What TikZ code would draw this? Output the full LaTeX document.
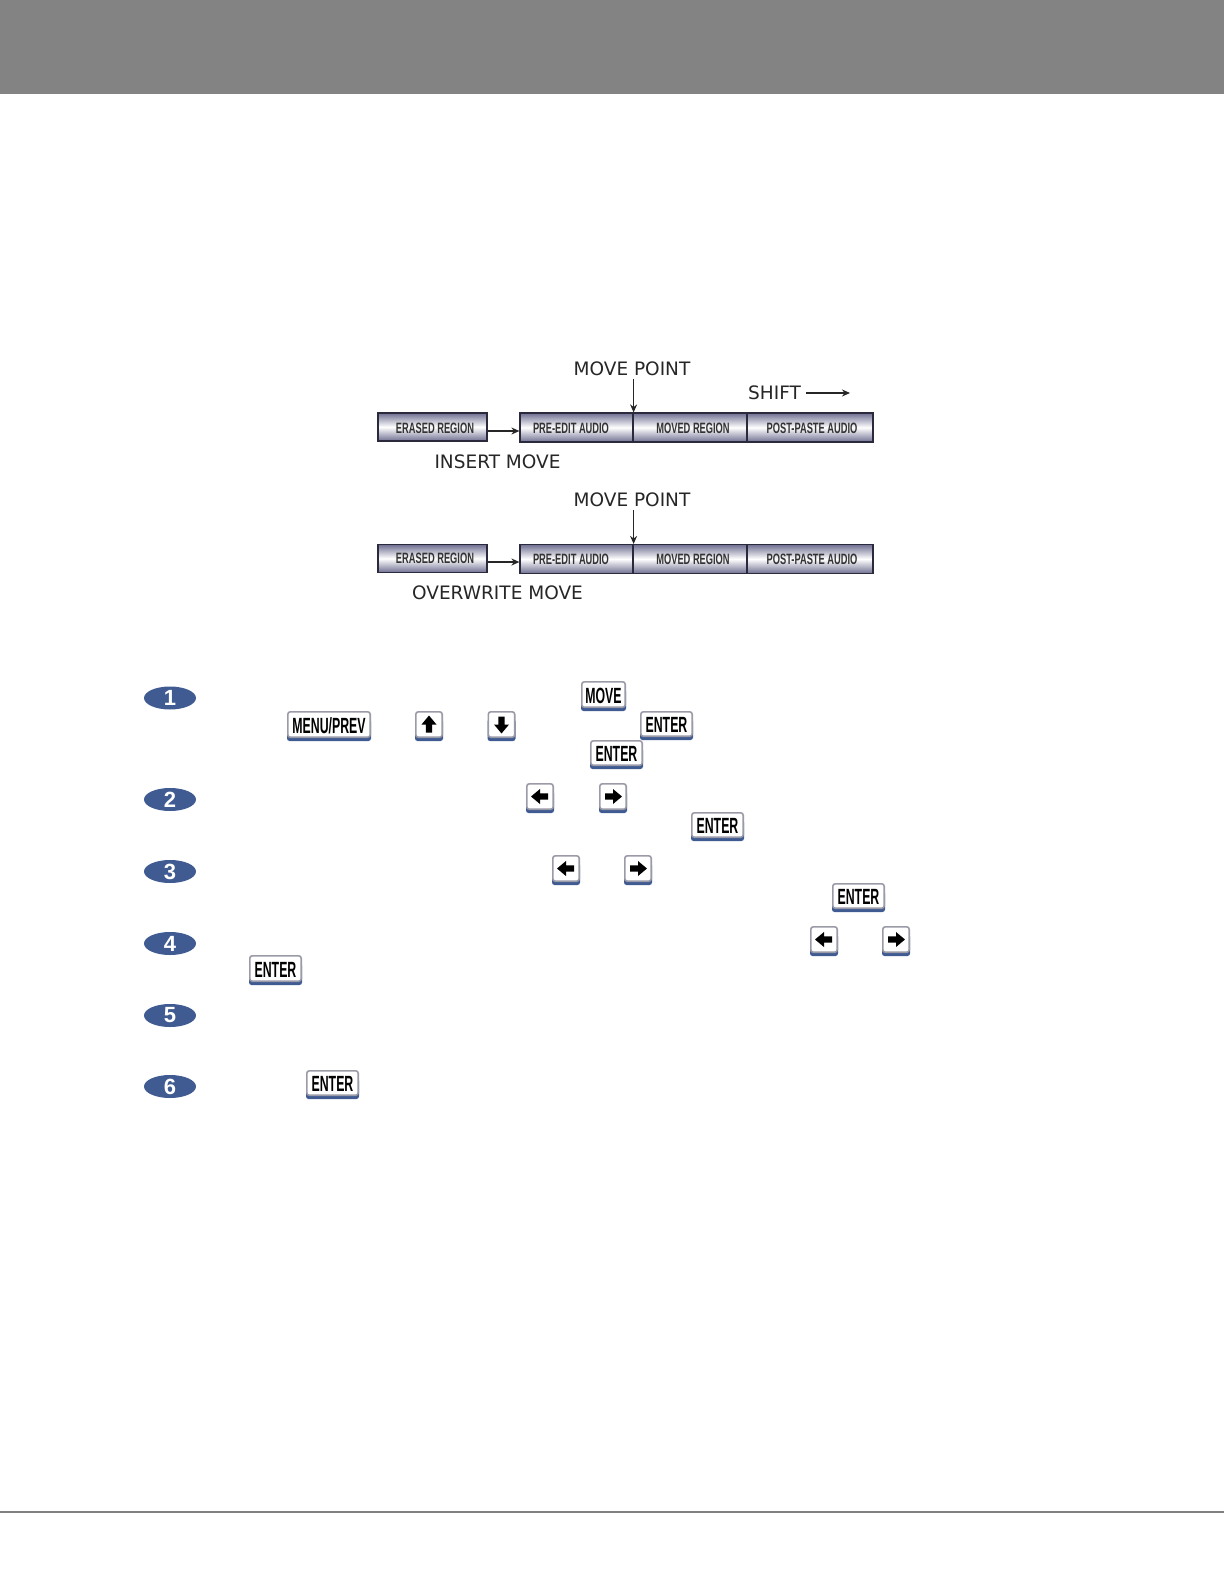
\documentclass[tikz,border=0pt]{standalone}
\usepackage{fontspec}
\setmainfont{Liberation Sans}
\newfontfamily\capfont{DejaVu Sans}
\newfontfamily\keyfont[FakeStretch=0.56]{Liberation Sans Bold}
\newfontfamily\boxfont[FakeStretch=0.62]{Liberation Sans Bold}
\usetikzlibrary{arrows.meta,shapes.geometric}
\definecolor{bandgray}{HTML}{838383}
\definecolor{ovalblue}{HTML}{3F5B92}
\definecolor{boxdark}{HTML}{6F6F92}
\definecolor{boxline}{HTML}{2A2A3C}
\definecolor{keyrim}{HTML}{9A9BA6}
\tikzset{
  capstyle/.style={font=\capfont\fontsize{18.5}{20}\selectfont,text=black!85,inner sep=0pt},
  boxlabel/.style={font=\boxfont\fontsize{15}{17}\selectfont,text=black!80,inner sep=0pt},
  regionbox/.style={draw=boxline,line width=1.2pt,top color=boxdark,bottom color=boxdark,middle color=white,inner sep=0pt,minimum height=#1},
  stepoval/.style={ellipse,fill=ovalblue,minimum width=52pt,minimum height=23pt,inner sep=0pt,text=white,font=\bfseries\fontsize{22}{24}\selectfont},
  arrowline/.style={draw=black!85,line width=1.3pt,-{Stealth[length=8pt,width=7pt]}},
  keyshadow/.style={fill=ovalblue,rounded corners=2.5pt},
  keyface/.style={draw=keyrim,line width=1.6pt,fill=white,rounded corners=2.5pt,inner sep=0pt,text=black,text height=17pt,text depth=0pt,font=\keyfont\fontsize{22}{24}\selectfont},
}
% \keycap{name}{x0}{y0}{x1}{y1}{label}
\newcommand{\keycap}[6]{%
  \fill[keyshadow] (#2,#3+8) rectangle (#4,#5);
  \node[keyface,minimum width={#4-#2-1.6},minimum height={#5-#3-4.6}] (#1) at ({(#2+#4)/2},{(#3+#5)/2-1.5}) {#6};
}
% \keyarrow{name}{x0}{y0}{rotation: 0 = up}
\newcommand{\keyarrow}[4]{%
  \keycap{#1}{#2}{#3}{#2+28}{#3+30}{}
  \fill[black,shift={(#1.center)},rotate=#4] (0,-9) -- (7.5,0) -- (3.2,0) -- (3.2,8) -- (-3.2,8) -- (-3.2,0) -- (-7.5,0) -- cycle;
}
\begin{document}
\begin{tikzpicture}[x=1pt,y=-1pt]
\useasboundingbox (0,0) rectangle (1224,1584);
\fill[white] (0,0) rectangle (1224,1584);
\fill[bandgray] (0,0) rectangle (1224,94);
\draw[draw=black!50,line width=1.2pt] (0,1512) -- (1224,1512);

% insert move
\node[capstyle] (mp1) at (632,369) {MOVE POINT};
\node[capstyle,anchor=west] (shift1) at (748,393) {SHIFT};
\coordinate (shiftstart) at (806,393);
\coordinate (shiftend) at (850,393);
\draw[arrowline] (shiftstart) -- (shiftend);
\node[regionbox=28pt,minimum width=109pt] (er1) at (432.5,427) {};
\node[regionbox=29pt,minimum width=113pt] (pre1) at (576.5,427.5) {};
\node[regionbox=29pt,minimum width=114pt] (mov1) at (690,427.5) {};
\node[regionbox=29pt,minimum width=126pt] (post1) at (810,427.5) {};
\node[boxlabel] (erl1) at (435,428) {ERASED REGION};
\node[boxlabel] (prl1) at (571,428) {PRE-EDIT AUDIO};
\node[boxlabel] (mol1) at (693,428) {MOVED REGION};
\node[boxlabel] (pol1) at (812,428) {POST-PASTE AUDIO};
\draw[arrowline] ([yshift=-4pt]er1.east) -- ([yshift=-3.5pt]pre1.west);
\draw[arrowline] (mp1.south -| pre1.east) ++(0,3) -- (pre1.north east);
\node[capstyle] (ins) at (497.5,462) {INSERT MOVE};

% overwrite move
\node[capstyle] (mp2) at (632,500) {MOVE POINT};
\node[regionbox=28pt,minimum width=109pt] (er2) at (432.5,558.5) {};
\node[regionbox=29pt,minimum width=113pt] (pre2) at (576.5,559) {};
\node[regionbox=29pt,minimum width=114pt] (mov2) at (690,559) {};
\node[regionbox=29pt,minimum width=126pt] (post2) at (810,559) {};
\node[boxlabel] (erl2) at (435,558.5) {ERASED REGION};
\node[boxlabel] (prl2) at (571,559) {PRE-EDIT AUDIO};
\node[boxlabel] (mol2) at (693,559) {MOVED REGION};
\node[boxlabel] (pol2) at (812,559) {POST-PASTE AUDIO};
\draw[arrowline] ([yshift=-3.5pt]er2.east) -- ([yshift=-3pt]pre2.west);
\draw[arrowline] (mp2.south -| pre2.east) ++(0,3) -- (pre2.north east);
\node[capstyle] (ovr) at (497.5,593) {OVERWRITE MOVE};

% step ovals
\node[stepoval] (s1) at (170,698) {1};
\node[stepoval] (s2) at (170,799.5) {2};
\node[stepoval] (s3) at (170,871.5) {3};
\node[stepoval] (s4) at (170,943.5) {4};
\node[stepoval] (s5) at (170,1015.5) {5};
\node[stepoval] (s6) at (170,1086.5) {6};

% keys
\keycap{kmove}{581}{681}{626}{711}{MOVE}
\keycap{kmenu}{287}{711}{371}{741}{MENU/PREV}
\keyarrow{kup}{415}{711}{0}
\keyarrow{kdown}{487.5}{711}{180}
\keycap{ke1}{640}{711}{693}{740}{ENTER}
\keycap{ke2}{590}{740}{643}{769}{ENTER}
\keyarrow{kl2}{526}{783}{90}
\keyarrow{kr2}{599}{783}{-90}
\keycap{ke3}{691}{812}{744}{841}{ENTER}
\keyarrow{kl3}{552}{855}{90}
\keyarrow{kr3}{624}{855}{-90}
\keycap{ke4}{832}{883}{885}{912}{ENTER}
\keyarrow{kl4}{810}{926}{90}
\keyarrow{kr4}{882}{926}{-90}
\keycap{ke5}{249}{955}{302}{985}{ENTER}
\keycap{ke6}{306}{1070}{359}{1099}{ENTER}
\end{tikzpicture}
\end{document}
